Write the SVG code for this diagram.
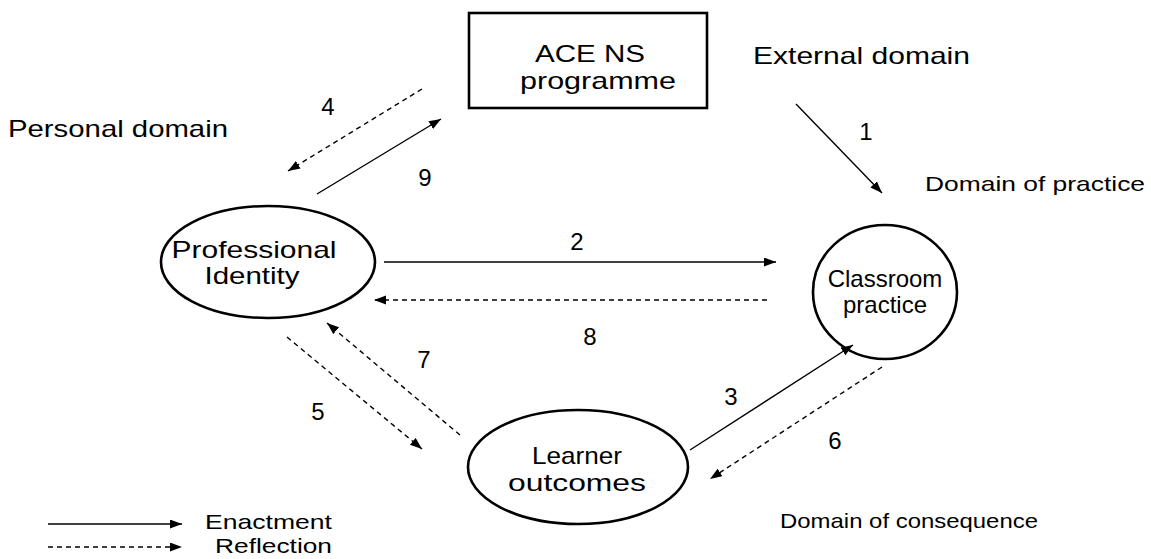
<svg xmlns="http://www.w3.org/2000/svg" width="1151" height="559" viewBox="0 0 1151 559">
  <style>
    .node { fill: #fff; stroke: #000; stroke-width: 2.6; }
    .lbl { font-family: "Liberation Sans", Arial, sans-serif; font-size: 24px; fill: #000; }
    .sm { font-family: "Liberation Sans", Arial, sans-serif; font-size: 21px; fill: #000; }
    .mid { text-anchor: middle; }
    .enact { stroke: #000; stroke-width: 1.4; fill: none; marker-end: url(#ah); }
    .refl { stroke: #000; stroke-width: 1.4; fill: none; stroke-dasharray: 5 4; marker-end: url(#ah); }
  </style>
  <defs>
    <marker id="ah" markerUnits="userSpaceOnUse" markerWidth="13" markerHeight="10" refX="12" refY="4.5" orient="auto">
      <path d="M0,0 L12,4.5 L0,9 Z" fill="#000"/>
    </marker>
  </defs>
  <rect width="1151" height="559" fill="#fff"/>

  <g id="ace-ns">
    <rect class="node" x="469" y="13" width="238" height="95"/>
    <text class="lbl mid" x="590" y="62" textLength="110" lengthAdjust="spacingAndGlyphs">ACE NS</text>
    <text class="lbl mid" x="598" y="89" textLength="156" lengthAdjust="spacingAndGlyphs">programme</text>
  </g>

  <g id="professional-identity">
    <ellipse class="node" cx="268" cy="262" rx="107" ry="56"/>
    <text class="lbl mid" x="254" y="258" textLength="165" lengthAdjust="spacingAndGlyphs">Professional</text>
    <text class="lbl mid" x="252" y="284" textLength="95" lengthAdjust="spacingAndGlyphs">Identity</text>
  </g>

  <g id="classroom-practice">
    <ellipse class="node" cx="885" cy="292" rx="72" ry="67"/>
    <text class="lbl mid" x="885" y="287">Classroom</text>
    <text class="lbl mid" x="885" y="313">practice</text>
  </g>

  <g id="learner-outcomes">
    <ellipse class="node" cx="578" cy="467" rx="110" ry="57"/>
    <text class="lbl mid" x="577" y="464" textLength="90" lengthAdjust="spacingAndGlyphs">Learner</text>
    <text class="lbl mid" x="577" y="491" textLength="138" lengthAdjust="spacingAndGlyphs">outcomes</text>
  </g>

  <g id="connectors">
    <line class="enact" x1="796" y1="104" x2="882" y2="193"/>
    <line class="enact" x1="384" y1="262" x2="776" y2="262"/>
    <line class="enact" x1="690" y1="450" x2="853" y2="345"/>
    <line class="refl" x1="422" y1="89" x2="288" y2="171"/>
    <line class="refl" x1="287" y1="337" x2="422" y2="449"/>
    <line class="refl" x1="882" y1="367" x2="710" y2="479"/>
    <line class="refl" x1="460" y1="435" x2="327" y2="323"/>
    <line class="refl" x1="767" y1="300" x2="374" y2="300"/>
    <line class="enact" x1="317" y1="194" x2="441" y2="119"/>
  </g>

  <g id="connector-labels">
    <text class="lbl mid" x="866" y="140">1</text>
    <text class="lbl mid" x="577" y="250">2</text>
    <text class="lbl mid" x="731" y="405">3</text>
    <text class="lbl mid" x="328" y="115">4</text>
    <text class="lbl mid" x="318" y="420">5</text>
    <text class="lbl mid" x="835" y="449">6</text>
    <text class="lbl mid" x="424" y="368">7</text>
    <text class="lbl mid" x="590" y="345">8</text>
    <text class="lbl mid" x="425" y="186">9</text>
  </g>

  <g id="domains">
    <text class="lbl" x="753" y="64" textLength="217" lengthAdjust="spacingAndGlyphs">External domain</text>
    <text class="lbl" x="8" y="137" textLength="220" lengthAdjust="spacingAndGlyphs">Personal domain</text>
    <text class="sm" x="925" y="191" textLength="220" lengthAdjust="spacingAndGlyphs">Domain of practice</text>
    <text class="sm" x="780" y="528" textLength="258" lengthAdjust="spacingAndGlyphs">Domain of consequence</text>
  </g>

  <g id="legend">
    <line class="enact" x1="48" y1="524" x2="182" y2="524"/>
    <line class="refl" x1="48" y1="547" x2="182" y2="547"/>
    <text class="sm" x="205" y="529" textLength="127" lengthAdjust="spacingAndGlyphs">Enactment</text>
    <text class="sm" x="215" y="553" textLength="117" lengthAdjust="spacingAndGlyphs">Reflection</text>
  </g>
</svg>
